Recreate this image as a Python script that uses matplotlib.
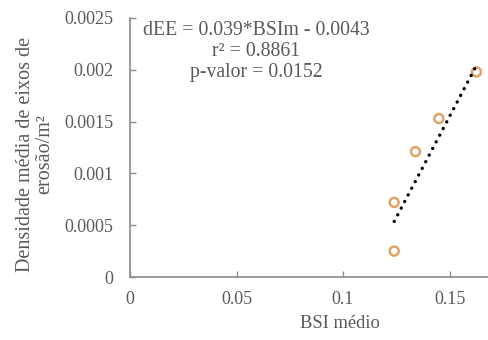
import numpy as np
import matplotlib
matplotlib.use("Agg")
import matplotlib.pyplot as plt

# Mean BSI per area vs. mean density of erosion axes
bsi_medio = [0.124, 0.124, 0.134, 0.145, 0.1626]
densidade = [0.00025, 0.00072, 0.00121, 0.00153, 0.00198]

slope = 0.039
intercept = -0.0043
x_ticks = [0, 0.05, 0.1, 0.15]
x_tick_labels = ["0", "0.05", "0.1", "0.15"]
y_ticks = [0, 0.0005, 0.001, 0.0015, 0.002, 0.0025]
y_tick_labels = ["0", "0.0005", "0.001", "0.0015", "0.002", "0.0025"]

plt.rcParams["font.family"] = ["Liberation Serif", "DejaVu Serif"]
text_color = "#595959"
axis_color = "#8c8c8c"

W, H = 489, 340
fig = plt.figure(figsize=(W / 100, H / 100), dpi=100)
ax = fig.add_axes([130 / W, 63 / H, 359 / W, 259 / H])

ax.scatter(bsi_medio, densidade, s=42, facecolors="none",
           edgecolors="#E2A464", linewidths=1.8, zorder=3, clip_on=False)

xl = np.array([min(bsi_medio), max(bsi_medio) + 0.0005])
ax.plot(xl, slope * xl + intercept, color="black",
        linestyle=(0, (0.05, 2.2)), linewidth=2.4,
        dash_capstyle="round", zorder=4)

ax.set_xlim(0, 0.1685)
ax.set_ylim(0, 0.0025)
ax.set_xticks(x_ticks)
ax.set_xticklabels(x_tick_labels)
ax.set_yticks(y_ticks)
ax.set_yticklabels(y_tick_labels)
ax.tick_params(direction="in", length=4, width=1, colors=axis_color,
               labelcolor=text_color, labelsize=13)
ax.tick_params(axis="x", pad=10)
ax.tick_params(axis="y", pad=12)

for side in ("top", "right"):
    ax.spines[side].set_visible(False)
for side in ("left", "bottom"):
    ax.spines[side].set_color(axis_color)
    ax.spines[side].set_linewidth(1.2)

ax.set_xlabel("BSI médio", fontsize=13.3, color=text_color, va="center")
ax.xaxis.set_label_coords(0.585, -0.181)
ax.set_ylabel("Densidade média de eixos de\nerosão/m²", fontsize=14.5,
              color=text_color, va="center", linespacing=1.05)
ax.yaxis.set_label_coords(-0.265, 0.475)

ax.text(0.0594, 0.00218,
        "dEE = 0.039*BSIm - 0.0043\nr² = 0.8861\np-valor = 0.0152",
        ha="center", va="center", fontsize=14.2, color=text_color,
        linespacing=1.15)

fig.savefig("out.png", dpi=100, facecolor="white")
